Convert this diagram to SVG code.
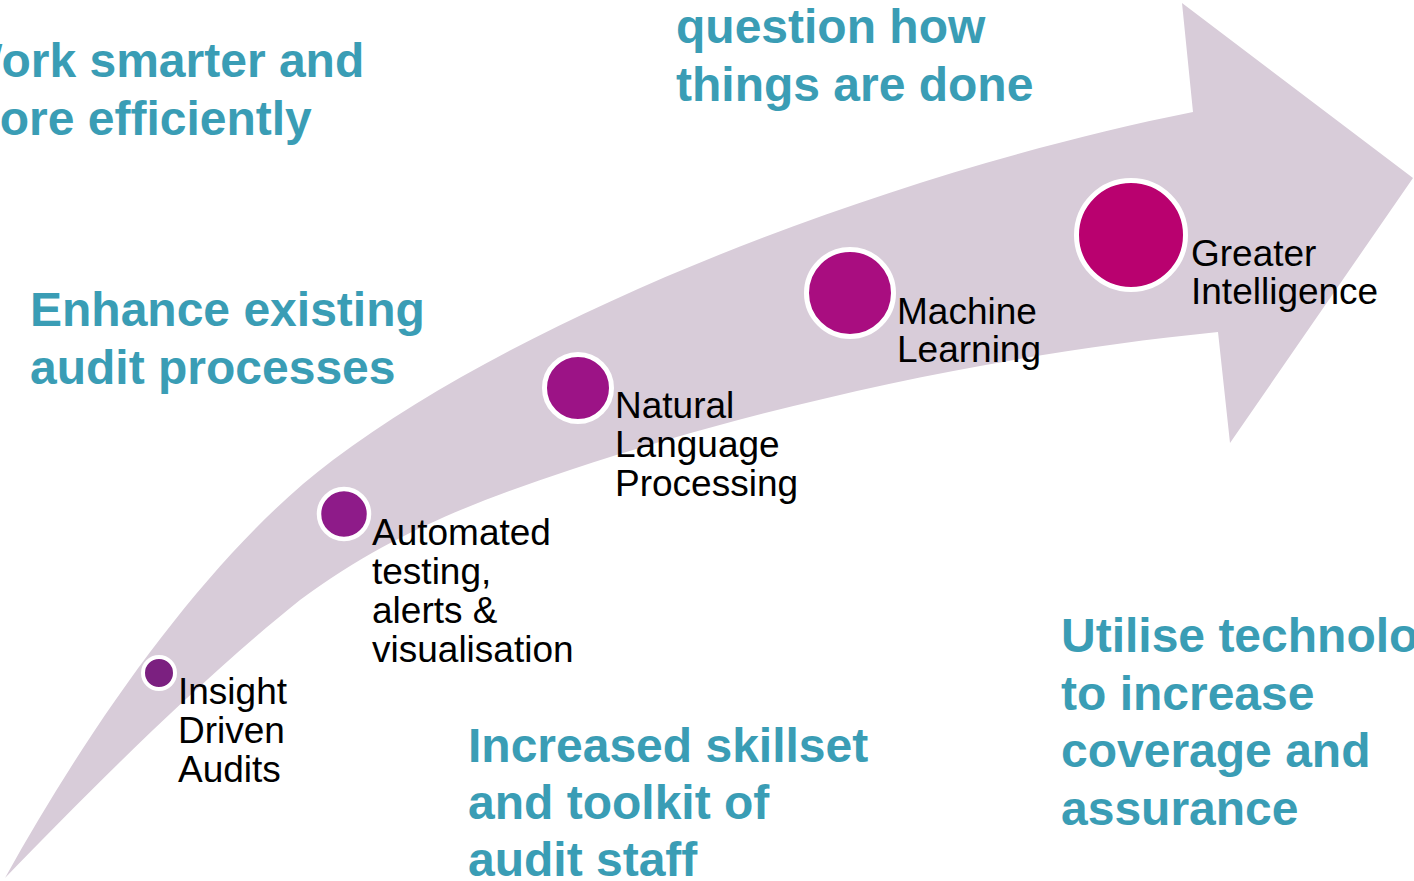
<svg xmlns="http://www.w3.org/2000/svg" width="1414" height="881" viewBox="0 0 1414 881">
  <style>
    .arrow { fill: #D8CCD9; }
    .dot { stroke: #FFFFFF; }
    .lbl { font-family: "Liberation Sans", Arial, sans-serif; font-size: 37px; fill: #000000; }
    .head { font-family: "Liberation Sans", Arial, sans-serif; font-size: 48px; font-weight: bold; fill: #3A9DB5; }
  </style>
  <rect width="1414" height="881" fill="#FFFFFF"/>
  <g id="connectors">
    <path class="arrow" d="M 5,878 C 95,716 213,550 333,460 C 533,310 893,172 1193,112 L 1182,3 L 1413,178 L 1230,443 L 1218,332 C 998,354 770,404 570,470 C 480,500 390,533 300,600 C 200,680 90,790 5,878 Z"/>
  </g>
  <g id="node-insight">
    <circle class="dot" cx="159" cy="673" r="16" stroke-width="4" fill="#7B2080"/>
    <text class="lbl" x="178" y="704">Insight<tspan x="178" dy="39">Driven</tspan><tspan x="178" dy="39">Audits</tspan></text>
  </g>
  <g id="node-automated">
    <circle class="dot" cx="344" cy="514" r="25" stroke-width="4.5" fill="#8E1B89"/>
    <text class="lbl" x="372" y="545">Automated<tspan x="372" dy="39">testing,</tspan><tspan x="372" dy="39">alerts &amp;</tspan><tspan x="372" dy="39">visualisation</tspan></text>
  </g>
  <g id="node-nlp">
    <circle class="dot" cx="578" cy="388" r="33.5" stroke-width="5" fill="#9C1386"/>
    <text class="lbl" x="615" y="418">Natural<tspan x="615" dy="39">Language</tspan><tspan x="615" dy="39">Processing</tspan></text>
  </g>
  <g id="node-ml">
    <circle class="dot" cx="850" cy="293" r="43.5" stroke-width="5" fill="#A90D80"/>
    <text class="lbl" x="897" y="324">Machine<tspan x="897" dy="38">Learning</tspan></text>
  </g>
  <g id="node-gi">
    <circle class="dot" cx="1131" cy="235" r="54.5" stroke-width="5" fill="#B9016F"/>
    <text class="lbl" x="1191" y="266">Greater<tspan x="1191" dy="38">Intelligence</tspan></text>
  </g>
  <g id="heading-work">
    <text class="head" x="-43" y="77">Work smarter and<tspan x="-43" dy="58">more efficiently</tspan></text>
  </g>
  <g id="heading-question">
    <text class="head" x="676" y="43">question how<tspan x="676" dy="58">things are done</tspan></text>
  </g>
  <g id="heading-enhance">
    <text class="head" x="30" y="326">Enhance existing<tspan x="30" dy="58">audit processes</tspan></text>
  </g>
  <g id="heading-skillset">
    <text class="head" x="468" y="762">Increased skillset<tspan x="468" dy="57">and toolkit of</tspan><tspan x="468" dy="57">audit staff</tspan></text>
  </g>
  <g id="heading-utilise">
    <text class="head" x="1061" y="652">Utilise technology<tspan x="1061" dy="57.5">to increase</tspan><tspan x="1061" dy="57.5">coverage and</tspan><tspan x="1061" dy="57.5">assurance</tspan></text>
  </g>
</svg>
